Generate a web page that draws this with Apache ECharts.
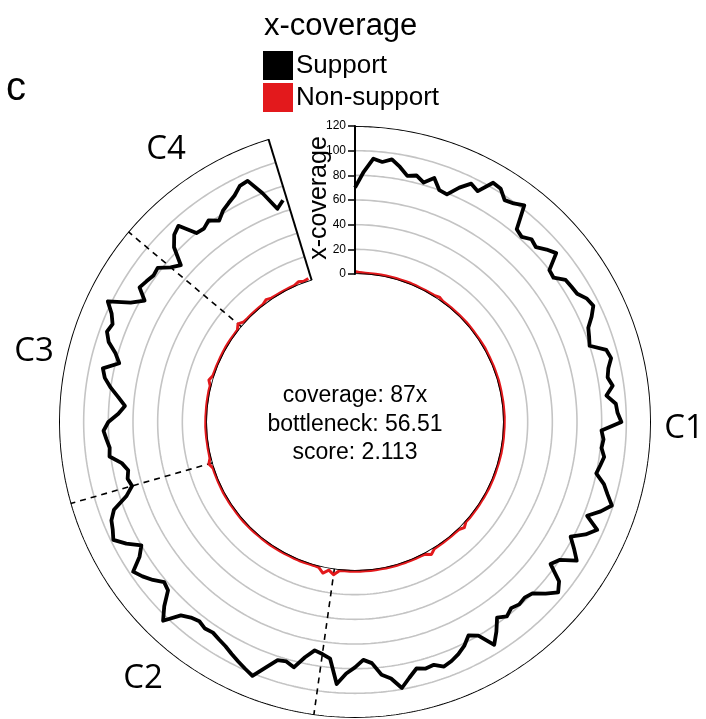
<!DOCTYPE html>
<html><head><meta charset="utf-8">
<script src="https://cdn.jsdelivr.net/npm/echarts@6/dist/echarts.min.js"></script>
<style>html,body{margin:0;padding:0;background:#fff}#c{width:706px;height:719px}</style>
</head><body><div id="c"></div>
<script>
// ---- data ----
const contigNames = ['C1', 'C2', 'C3', 'C4'];
const contigBounds = [0, 188, 254, 310, 343]; // genome position (bins)
const angleAxisMax = 360;                      // includes the gap after the last contig
const binSize = 2;
const radiusTicks = [0, 20, 40, 60, 80, 100, 120];
const support = [
  70, 83, 94, 92, 95, 90, 84, 86, 82, 88, 80, 79, 88, 95, 92, 104, 103, 97, 99, 103,
  84, 82, 86, 84, 89, 93, 80, 79, 86, 87, 88, 93, 95, 90, 84, 82, 80, 92, 94, 90,
  88, 91, 85, 92, 93, 96, 80, 82, 81, 84, 82, 80, 88, 93, 99, 92, 83, 95, 88, 78,
  85, 92, 80, 76, 90, 95, 88, 80, 78, 79, 77, 80, 76, 85, 93, 80, 76, 82, 86, 89,
  91, 87, 88, 86, 92, 99, 90, 86, 76, 73, 79, 84, 93, 73, 70, 68, 75, 85, 82, 83,
  92, 102, 99, 96, 93, 90, 88, 86, 87, 85, 87, 91, 104, 95, 84, 82, 88, 93, 97, 86,
  80, 90, 98, 95, 93, 88, 75, 68, 70, 68, 72, 81, 80, 82, 84, 80, 72, 67, 73, 80,
  86, 89, 77, 82, 90, 94, 92, 96, 103, 86, 77, 86, 84, 82, 83, 75, 70, 84, 91, 94,
  80, 79, 82, 77, 82, 85, 88, 93, 94, 80, 64, 69
];
const nonSupport = [
  2, 1.2, 1, 0.9, 1, 1.1, 1, 0.9, 1, 1, 1, 1.1, 1, 0.9, 1, 1, 1.1, 2.2, 1, 1,
  1, 0.9, 1, 1, 1.1, 1, 1, 0.9, 1, 1, 1.2, 1, 1, 0.9, 1, 1, 1, 1.1, 1, 1,
  0.9, 1, 1, 1, 1.1, 1, 1, 0.9, 1, 1, 1, 1.1, 1, 1, 0.9, 1, 1, 1, 1.1, 1,
  1, 0.9, 1, 1, 1, 1.1, 1, 3.2, 1.2, 1, 1, 0.9, 1, 1, 1.3, 4, 1.4, 1, 1, 0.9,
  1, 1, 1.1, 1, 1, 0.9, 1, 1, 1, 1.1, 1, 1, 1, 1.2, 5, 2, 5.2, 1.5, 1, 1,
  1, 1.1, 1, 0.9, 1, 1, 1, 1.1, 1, 1, 0.9, 1, 1, 1, 1.1, 1, 1, 0.9, 1, 1,
  1, 1.1, 1, 1, 0.9, 1, 1, 3.2, 1.2, 1, 1, 0.9, 1, 1, 1.1, 1, 1, 0.9, 1, 1,
  1, 1.1, 1, 3.2, 1.2, 1, 1, 0.9, 1, 1, 1.1, 1, 1, 0.9, 1, 3.8, 1.3, 1, 1, 1,
  1, 1.1, 2.6, 1.2, 1, 0.9, 1, 1, 1.1, 2.6, 1.5, 2.4
];
const statsLines = ['coverage: 87x', 'bottleneck: 56.51', 'score: 2.113'];
const legendTitle = 'x-coverage';
const radiusAxisName = 'x-coverage';
const panelLabel = 'c';

// ---- build ----
const positions = support.map((_, i) => i * binSize);
const supportData = support.map((v, i) => [v, positions[i]]);
const nonSupportData = nonSupport.map((v, i) => [v, positions[i]]);
const genomeEnd = contigBounds[contigBounds.length - 1];
const arcAngles = [];
for (let a = 0; a <= genomeEnd; a += 0.5) arcAngles.push(a);

const font = 'Liberation Sans, Arial, Helvetica, sans-serif';
const series = [];
// grid arcs
radiusTicks.forEach((t, k) => {
  series.push({
    type: 'line', coordinateSystem: 'polar', silent: true, symbol: 'none',
    data: arcAngles.map(a => [t, a]),
    lineStyle: {
      color: (k === 0 || k === radiusTicks.length - 1) ? '#000' : '#c4c4c4',
      width: (k === 0) ? 1.6 : (k === radiusTicks.length - 1 ? 2 : 1.6)
    },
    z: (k === 0) ? 4 : 1
  });
});
// end edge of the last contig
series.push({
  type: 'line', coordinateSystem: 'polar', silent: true, symbol: 'none',
  data: [[radiusTicks[0], genomeEnd], [radiusTicks[radiusTicks.length - 1], genomeEnd]],
  lineStyle: { color: '#000', width: 2 }, z: 3
});
// contig boundaries (dashed)
contigBounds.slice(1, -1).forEach(b => {
  series.push({
    type: 'line', coordinateSystem: 'polar', silent: true, symbol: 'none',
    data: [[radiusTicks[0], b], [radiusTicks[radiusTicks.length - 1], b]],
    lineStyle: { color: '#000', width: 1.6, type: [6, 5] }, z: 2
  });
});
series.push({
  name: 'Non-support', type: 'line', coordinateSystem: 'polar', symbol: 'none',
  data: nonSupportData, color: '#e3191c',
  lineStyle: { color: '#e3191c', width: 3, join: 'round' }, z: 3
});
series.push({
  name: 'Support', type: 'line', coordinateSystem: 'polar', symbol: 'none',
  data: supportData, color: '#000',
  lineStyle: { color: '#000', width: 3.8, join: 'round' }, z: 5
});

const contigLabelPos = [[684, 429], [143, 679], [34, 352], [166, 150]];
const graphics = contigNames.map((n, i) => ({
  type: 'text', x: contigLabelPos[i][0], y: contigLabelPos[i][1],
  style: { text: n, font: '33px "Open Sans", sans-serif', fill: '#000', align: 'center', verticalAlign: 'middle' }
}));
statsLines.forEach((s, i) => graphics.push({
  type: 'text', x: 355, y: 396 + i * 28.5,
  style: { text: s, font: '23px ' + font, fill: '#000', align: 'center', verticalAlign: 'middle' }
}));
graphics.push({
  type: 'text', x: 6, y: 89,
  style: { text: panelLabel, font: '40px ' + font, fill: '#000', align: 'left', verticalAlign: 'middle' }
});
graphics.push({
  type: 'text', x: 319, y: 198, rotation: Math.PI / 2,
  style: { text: radiusAxisName, font: '25px ' + font, fill: '#000', align: 'center', verticalAlign: 'middle' }
});

const chart = echarts.init(document.getElementById('c'), null, { renderer: 'canvas' });
chart.setOption({
  animation: false,
  backgroundColor: '#fff',
  title: { text: legendTitle, left: 259, top: 6, textStyle: { fontFamily: font, fontSize: 31, fontWeight: 'normal', color: '#000' } },
  legend: {
    data: ['Support', 'Non-support'], orient: 'vertical', left: 258, top: 46,
    icon: 'rect', itemWidth: 30, itemHeight: 29, itemGap: 3,
    textStyle: { fontFamily: font, fontSize: 26, color: '#000', padding: [0, 0, 0, -2] },
    selectedMode: false
  },
  polar: { center: [355, 422], radius: [148, 296] },
  angleAxis: {
    type: 'value', min: 0, max: angleAxisMax, startAngle: 90, clockwise: true,
    axisLine: { show: false }, axisTick: { show: false }, axisLabel: { show: false },
    splitLine: { show: false }
  },
  radiusAxis: {
    type: 'value', min: radiusTicks[0], max: radiusTicks[radiusTicks.length - 1], interval: 20,
    axisLine: { show: true, lineStyle: { color: '#000', width: 2 } },
    axisTick: { show: true, inside: true, length: 7, lineStyle: { color: '#000', width: 1.5 } },
    axisLabel: { show: true, inside: true, fontFamily: font, fontSize: 12, color: '#000', margin: 9 },
    splitLine: { show: false },
    z: 6
  },
  series: series,
  graphic: graphics
});
</script></body></html>
